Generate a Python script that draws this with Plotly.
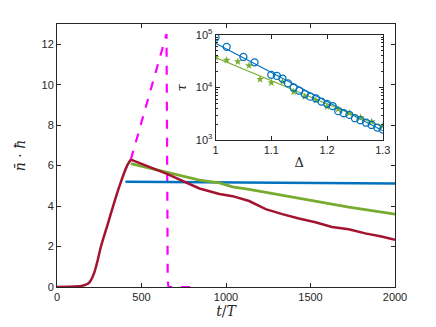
import plotly.graph_objects as go

# main panel: occupation vs time
rise_t = [0, 100, 150, 185, 200, 220, 240, 260, 300, 332, 370, 415, 437]
rise_n = [0, 0.02, 0.06, 0.17, 0.33, 0.7, 1.3, 2.0, 3.1, 4.0, 5.0, 6.0, 6.3]

red_t = [437, 647, 843, 961, 1039, 1137, 1235, 1333, 1431, 1529, 1627, 1726, 1824, 1920, 2000]
red_n = [6.3, 5.6, 4.87, 4.6, 4.49, 4.25, 3.85, 3.6, 3.39, 3.2, 2.97, 2.85, 2.65, 2.5, 2.33]

green_t = [437, 647, 843, 961, 1039, 1137, 1235, 1333, 1431, 1529, 1627, 1726, 1824, 2000]
green_n = [6.1, 5.69, 5.28, 5.15, 4.95, 4.82, 4.67, 4.52, 4.38, 4.22, 4.08, 3.95, 3.83, 3.6]

blue_t = [405, 1000, 1500, 2000]
blue_n = [5.2, 5.18, 5.15, 5.12]

mag_t = [437, 648, 652, 655, 660, 800]
mag_n = [6.3, 12.5, 6.0, 0.3, 0.0, 0.0]

# inset: lifetime vs Delta
d_blue = [1.0, 1.02, 1.05, 1.07, 1.10, 1.11, 1.12, 1.13, 1.14, 1.15, 1.16, 1.17, 1.18,
          1.19, 1.20, 1.21, 1.22, 1.23, 1.24, 1.25, 1.26, 1.27, 1.28, 1.29, 1.30]
tau_blue = [89000, 59000, 38000, 30000, 17400, 16600, 14800, 12000, 10000, 8700, 7500,
            6700, 6200, 5400, 4900, 4450, 3560, 3250, 3020, 2620, 2400, 2150, 1950, 1740, 1590]
d_green = [1.0, 1.02, 1.04, 1.06, 1.08, 1.10, 1.12, 1.14, 1.16, 1.18, 1.20, 1.22, 1.24,
           1.26, 1.28, 1.30]
tau_green = [37500, 33000, 31000, 26000, 14300, 12300, 12900, 8300, 6700, 5750, 4350,
             3900, 3250, 2700, 2250, 1860]
fit_d = [1.0, 1.3]
fit_blue = [69000, 1510]
fit_green = [37000, 1780]

BLUE = '#0072BD'
GREEN = '#77AC30'
RED = '#A2142F'
MAG = '#FF00FF'
AX = '#262626'
FONT = 'Liberation Sans'

fig = go.Figure()
fig.add_trace(go.Scatter(x=mag_t, y=mag_n, mode='lines',
                         line=dict(color=MAG, width=2.2, dash='dash')))
fig.add_trace(go.Scatter(x=blue_t, y=blue_n, mode='lines', line=dict(color=BLUE, width=2.5)))
fig.add_trace(go.Scatter(x=green_t, y=green_n, mode='lines', line=dict(color=GREEN, width=2.8)))
fig.add_trace(go.Scatter(x=rise_t, y=rise_n, mode='lines',
                         line=dict(color=RED, width=2.5, shape='spline', smoothing=0.5)))
fig.add_trace(go.Scatter(x=red_t, y=red_n, mode='lines', line=dict(color=RED, width=2.5)))

# inset
fig.add_trace(go.Scatter(x=fit_d, y=fit_blue, mode='lines', line=dict(color=BLUE, width=1.2),
                         xaxis='x2', yaxis='y2'))
fig.add_trace(go.Scatter(x=fit_d, y=fit_green, mode='lines', line=dict(color=GREEN, width=1.2),
                         xaxis='x2', yaxis='y2'))
fig.add_trace(go.Scatter(x=d_green, y=tau_green, mode='markers',
                         marker=dict(symbol='star', size=6, color=GREEN),
                         xaxis='x2', yaxis='y2'))
fig.add_trace(go.Scatter(x=d_blue, y=tau_blue, mode='markers',
                         marker=dict(symbol='circle-open', size=7, color=BLUE,
                                     line=dict(width=1.3)),
                         xaxis='x2', yaxis='y2'))

axis_common = dict(showline=True, linecolor=AX, linewidth=1, mirror='ticks',
                   ticks='inside', ticklen=4, tickcolor=AX, showgrid=False,
                   zeroline=False, tickfont=dict(family=FONT, size=11, color=AX))

minor_vals = [m * 10 ** e for e in (3, 4) for m in range(2, 10)]

fig.update_layout(
    width=436, height=327,
    margin=dict(l=56.5, r=41, t=24, b=40),
    paper_bgcolor='white', plot_bgcolor='white',
    showlegend=False,
    xaxis=dict(range=[0, 2000], tickvals=[0, 500, 1000, 1500, 2000],
               title=dict(text='<i>t</i>/<i>T</i>', standoff=2,
                          font=dict(family='DejaVu Serif', size=14, color=AX)),
               **axis_common),
    yaxis=dict(range=[0, 13], tickvals=[0, 2, 4, 6, 8, 10, 12],
               title=dict(text='<i>n̄</i> · <i>ħ</i>', standoff=12,
                          font=dict(family='DejaVu Serif', size=14, color=AX)),
               **axis_common),
    xaxis2=dict(domain=[0.469, 0.964], anchor='y2', range=[1, 1.3],
                tickvals=[1, 1.1, 1.2, 1.3], ticktext=['1', '1.1', '1.2', '1.3'],
                title=dict(text='Δ', standoff=2,
                           font=dict(family='DejaVu Serif', size=13, color=AX)),
                **axis_common),
    yaxis2=dict(domain=[0.558, 0.959], anchor='x2', type='log', range=[3, 5],
                tickvals=[1000, 10000, 100000],
                ticktext=['10<sup>3</sup>', '10<sup>4</sup>', '10<sup>5</sup>'],
                minor=dict(ticks='inside', ticklen=2, tickcolor=AX, showgrid=False,
                           tickvals=minor_vals),
                title=dict(text='<i>τ</i>', standoff=6,
                           font=dict(family='DejaVu Serif', size=13, color=AX)),
                **axis_common),
)

fig.write_html("out.html", config={'displayModeBar': False},
               post_script="document.body.style.margin='0';")
